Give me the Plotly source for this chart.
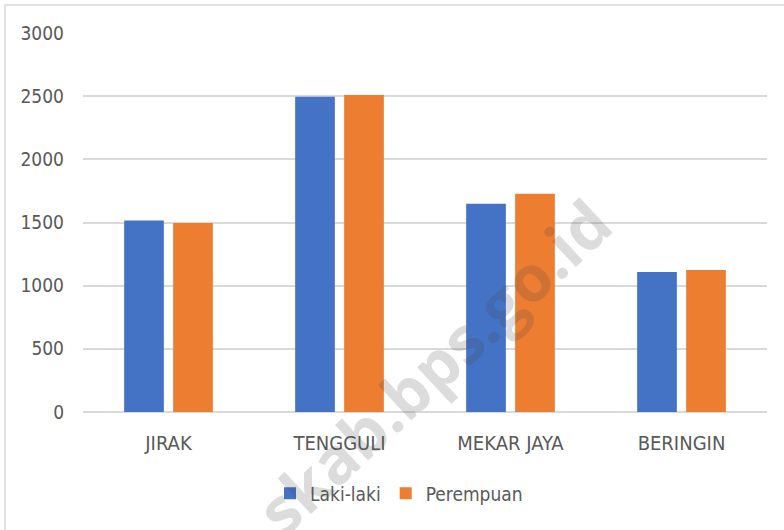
import plotly.graph_objects as go

categories = ["JIRAK", "TENGGULI", "MEKAR JAYA", "BERINGIN"]
laki_laki = [1515, 2495, 1648, 1108]
perempuan = [1497, 2510, 1727, 1124]
y_ticks = [0, 500, 1000, 1500, 2000, 2500, 3000]

W, H = 784, 530
ML, MR, MT, MB = 83, 17, 33, 118
FONT = "DejaVu Sans Condensed, Liberation Sans Narrow, Roboto, sans-serif"
TXT = "#595959"

fig = go.Figure()
fig.add_trace(go.Bar(name="Laki-laki", x=categories, y=laki_laki, marker=dict(color="#4472C4", line=dict(width=0))))
fig.add_trace(go.Bar(name="Perempuan", x=categories, y=perempuan, marker=dict(color="#ED7D31", line=dict(width=0))))

pw = W - ML - MR
ph = H - MT - MB

def px_x(p):
    return (p - ML) / pw

def px_y(p):
    return (H - MB - p) / ph

fig.add_shape(type="rect", xref="paper", yref="paper",
              x0=px_x(5), x1=px_x(792), y0=px_y(545), y1=px_y(5),
              line=dict(color="#d9d9d9", width=1.5), fillcolor="rgba(0,0,0,0)", layer="below")

fig.add_annotation(text="<b>skab.bps.go.id</b>", xref="paper", yref="paper",
                   x=px_x(433), y=px_y(366), showarrow=False, textangle=-43,
                   font=dict(family="Open Sans, DejaVu Sans, sans-serif", size=64, color="rgba(70,70,70,0.19)"),
                   xanchor="center", yanchor="middle")

fig.update_layout(
    width=W, height=H,
    margin=dict(l=ML, r=MR, t=MT, b=MB, pad=0),
    paper_bgcolor="white", plot_bgcolor="white",
    barmode="group", bargap=0.427, bargroupgap=0.19,
    font=dict(family=FONT, size=20, color=TXT),
    showlegend=True,
    legend=dict(orientation="h", x=0.462, xanchor="center", y=-0.215, yanchor="middle",
                font=dict(family=FONT, size=19, color=TXT), itemwidth=30, traceorder="normal"),
)
fig.update_xaxes(showgrid=False, showline=False, ticks="", ticklabelstandoff=17,
                 tickfont=dict(family=FONT, size=20, color=TXT))
fig.update_yaxes(range=[0, 3000], tickvals=y_ticks, showgrid=True, gridcolor="#d9d9d9", gridwidth=1.5,
                 zeroline=True, zerolinecolor="#d9d9d9", zerolinewidth=1.5, showline=False, ticks="",
                 ticklabelstandoff=18, tickfont=dict(family=FONT, size=19, color=TXT))

fig.write_html("out.html", config={"displayModeBar": False},
               post_script="document.body.style.margin='0';")
